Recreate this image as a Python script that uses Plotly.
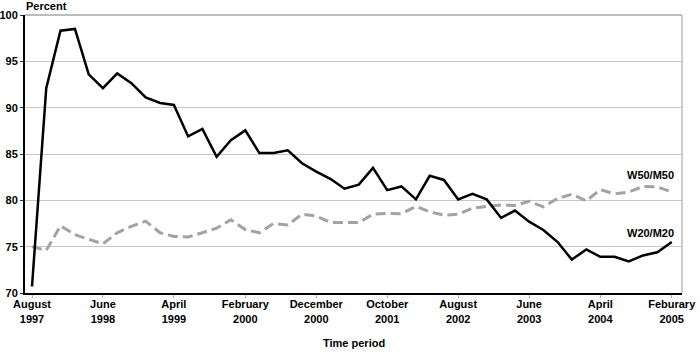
import plotly.graph_objects as go
import pandas as pd

# Survey periods: every two months, August 1997 - February 2005
periods = pd.date_range("1997-08-01", periods=46, freq="2MS")

w20_m20 = [70.7, 92.1, 98.3, 98.5, 93.6, 92.1, 93.7, 92.65, 91.1, 90.5,
           90.3, 86.9, 87.7, 84.7, 86.5, 87.55, 85.1, 85.1, 85.4, 84.0,
           83.1, 82.3, 81.25, 81.7, 83.5, 81.1, 81.5, 80.1, 82.65, 82.2,
           80.1, 80.7, 80.1, 78.1, 78.9, 77.7, 76.8, 75.5, 73.6, 74.7,
           73.9, 73.9, 73.4, 74.05, 74.4, 75.5]

w50_m50 = [75.0, 74.6, 77.25, 76.3, 75.8, 75.3, 76.5, 77.2, 77.75, 76.5,
           76.1, 76.05, 76.5, 77.0, 77.9, 76.85, 76.5, 77.5, 77.35, 78.5,
           78.3, 77.6, 77.6, 77.6, 78.5, 78.6, 78.55, 79.35, 78.75, 78.4,
           78.5, 79.15, 79.35, 79.5, 79.45, 79.9, 79.3, 80.2, 80.65, 79.95,
           81.15, 80.7, 80.9, 81.5, 81.45, 80.9]

tick_dates = ["1997-08-01", "1998-06-01", "1999-04-01", "2000-02-01", "2000-12-01",
              "2001-10-01", "2002-08-01", "2003-06-01", "2004-04-01", "2005-02-01"]
tick_text = ["August<br>1997", "June<br>1998", "April<br>1999", "February<br>2000",
             "December<br>2000", "October<br>2001", "August<br>2002", "June<br>2003",
             "April<br>2004", "Feburary<br>2005"]

FONT = "Liberation Sans, Arial, sans-serif"

fig = go.Figure()
fig.add_trace(go.Scatter(x=periods, y=w50_m50, mode="lines", name="W50/M50",
                         line=dict(color="#a3a3a3", width=3, dash="10px,5px")))
fig.add_trace(go.Scatter(x=periods, y=w20_m20, mode="lines", name="W20/M20",
                         line=dict(color="#000000", width=2.5)))

fig.update_layout(
    width=700, height=352,
    margin=dict(l=25, r=18, t=15, b=59),
    paper_bgcolor="white", plot_bgcolor="white",
    showlegend=False,
    font=dict(family=FONT, size=11, color="black", weight="bold"),
)
fig.update_xaxes(
    range=["1997-07-02", "2005-03-17"],
    tickmode="array", tickvals=tick_dates, ticktext=tick_text,
    ticks="outside", ticklen=3, tickcolor="#aaaaaa", tickwidth=1,
    ticklabelstandoff=-3,
    showline=True, linecolor="black", linewidth=2,
    showgrid=False, zeroline=False, automargin=False,
    tickfont=dict(family=FONT, size=11, color="black", weight="bold"),
)
fig.update_yaxes(
    range=[70, 100], dtick=5, tick0=70,
    ticks="outside", ticklen=3, tickcolor="#333333", tickwidth=1,
    showline=True, linecolor="black", linewidth=2,
    showgrid=True, gridcolor="#c6c6c6", gridwidth=1, zeroline=False,
    automargin=False,
    tickfont=dict(family=FONT, size=11, color="black", weight="bold"),
)

# Light top and right frame lines
fig.add_shape(type="line", xref="paper", yref="paper", x0=0, x1=1, y0=1, y1=1,
              line=dict(color="#bdbdbd", width=2))
fig.add_shape(type="line", xref="paper", yref="paper", x0=1, x1=1, y0=0, y1=1,
              line=dict(color="#bdbdbd", width=1.5))

fig.add_annotation(text="Percent", xref="paper", yref="paper", x=0, y=1,
                   xanchor="left", yanchor="bottom", showarrow=False, xshift=-1, yshift=1,
                   font=dict(family=FONT, size=11, color="black", weight="bold"))
fig.add_annotation(text="Time period", xref="paper", yref="paper", x=0.5, y=0,
                   xanchor="center", yanchor="top", showarrow=False, yshift=-42,
                   font=dict(family=FONT, size=11, color="black", weight="bold"))
fig.add_annotation(text="W50/M50", xref="paper", yref="y", x=0.993, y=82.75,
                   xanchor="right", yanchor="middle", showarrow=False, xshift=-1,
                   font=dict(family=FONT, size=11, color="black", weight="bold"))
fig.add_annotation(text="W20/M20", xref="paper", yref="y", x=0.993, y=76.45,
                   xanchor="right", yanchor="middle", showarrow=False, xshift=-1,
                   font=dict(family=FONT, size=11, color="black", weight="bold"))

fig.write_html("out.html")
